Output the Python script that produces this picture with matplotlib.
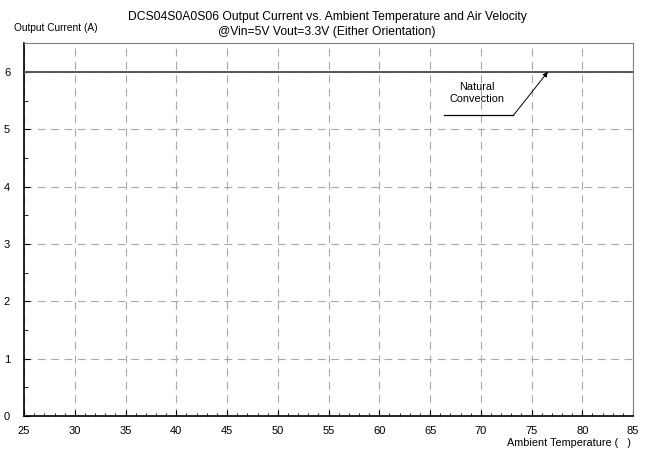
import numpy as np
import matplotlib.pyplot as plt

# data
temp = [25, 85]
current = [6.0, 6.0]
x_ticks = [25, 30, 35, 40, 45, 50, 55, 60, 65, 70, 75, 80, 85]
y_ticks = [0, 1, 2, 3, 4, 5, 6]

plt.rcParams['font.family'] = ['Liberation Sans', 'DejaVu Sans']

fig = plt.figure(figsize=(6.5, 4.5), dpi=100)
ax = fig.add_axes([0.037, 0.0756, 0.937, 0.8284])

ax.plot(temp, current, color="#555555", lw=1.4, zorder=3)

ax.set_xlim(25, 85)
ax.set_ylim(0, 6.5)
ax.set_xticks(x_ticks)
ax.set_yticks(y_ticks)
ax.set_xticks(np.arange(25, 86, 1), minor=True)
ax.set_yticks(np.arange(0, 6.6, 0.5), minor=True)
ax.tick_params(axis="both", which="both", direction="in", labelsize=8,
               colors="black")
ax.tick_params(axis="x", which="major", length=4, pad=7.5)
ax.tick_params(axis="x", which="minor", length=2.5)
ax.tick_params(axis="y", which="major", length=4, pad=10)
ax.tick_params(axis="y", which="minor", length=3)

ax.grid(True, which="major", color="#a8a8a8", linestyle=(0, (7, 5)), lw=0.8)

ax.spines["left"].set_color("black")
ax.spines["bottom"].set_color("black")
ax.spines["left"].set_linewidth(1.2)
ax.spines["bottom"].set_linewidth(1.2)
ax.spines["top"].set_color("#808080")
ax.spines["right"].set_color("#808080")

# annotation
ax.text(69.6, 5.63, "Natural\nConvection", ha="center", va="center",
        fontsize=7.8, linespacing=1.3)
ax.plot([66.4, 73.2], [5.24, 5.24], color="black", lw=0.9)
ax.annotate("", xy=(76.6, 6.0), xytext=(73.2, 5.24),
            arrowprops=dict(arrowstyle="-|>", color="black", lw=0.7,
                            mutation_scale=7, shrinkA=0, shrinkB=0))

fig.text(0.503, 0.962, "DCS04S0A0S06 Output Current vs. Ambient Temperature and Air Velocity",
         ha="center", va="center", fontsize=8.7)
fig.text(0.503, 0.928, "@Vin=5V Vout=3.3V (Either Orientation)",
         ha="center", va="center", fontsize=8.7)
fig.text(0.022, 0.937, "Output Current (A)", ha="left", va="center", fontsize=7.3)
fig.text(0.97, 0.015, "Ambient Temperature (   )", ha="right", va="center",
         fontsize=7.8)

fig.savefig("out.png", dpi=100)
